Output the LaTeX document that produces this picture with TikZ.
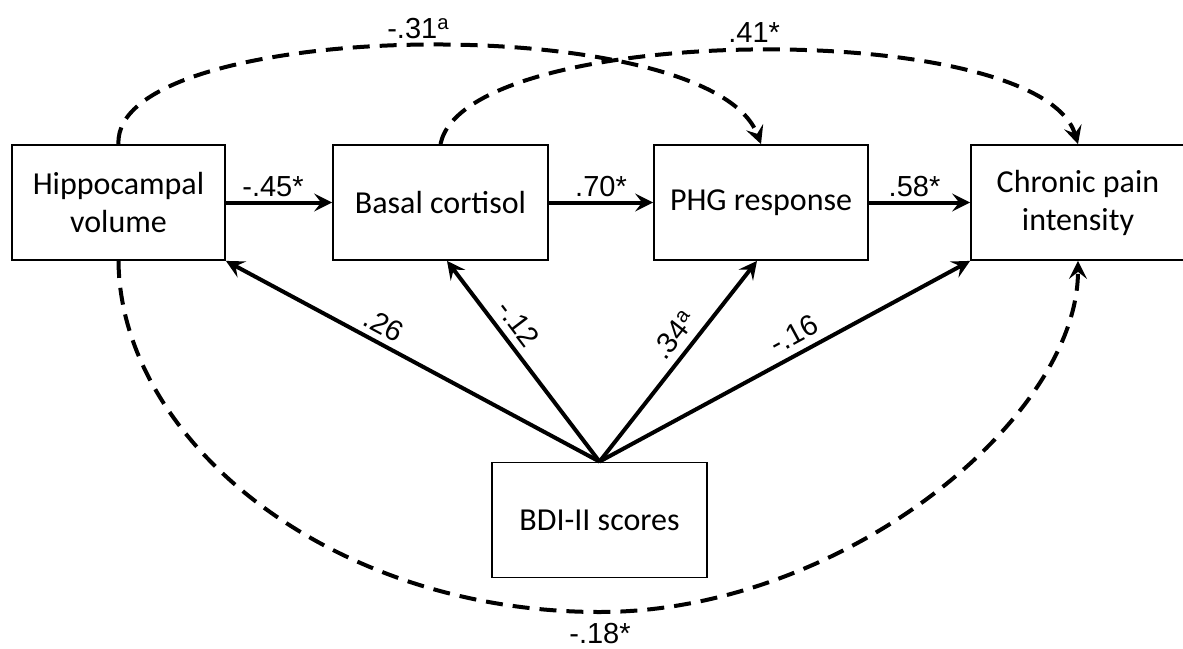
\documentclass[tikz,border=0pt]{standalone}
\usepackage{fontspec}
\setmainfont{Carlito}
\newfontfamily\coeffont{Liberation Sans}
\usetikzlibrary{arrows.meta}
\begin{document}
\begin{tikzpicture}[x=1pt,y=-1pt,
  box/.style={draw, line width=1.8pt, minimum height=115pt, inner sep=0pt,
              align=center, font=\fontsize{32}{38}\selectfont},
  tip/.style={-{Stealth[length=18pt,width=18pt,inset=7pt]}},
  effect/.style={tip, line width=4pt},
  assoc/.style={tip, line width=4pt, dash pattern=on 17pt off 10pt},
  coef/.style={font=\coeffont\fontsize{29}{32}\selectfont, inner sep=2pt},
]
\useasboundingbox (0,0) rectangle (1183,648);

% variables
\node[box, minimum width=213pt] (hip) at (118.5,202.5) {Hippocampal\\volume};
\node[box, minimum width=215pt] (bas) at (440.5,202.5) {Basal cortisol};
\node[box, minimum width=214pt] (phg) at (761,202.5) {PHG response};
\node[box, minimum width=214pt] (chr) at (1078,202.5) {Chronic pain\\intensity};
\node[box, minimum width=215pt] (bdi) at (599.5,520) {BDI-II scores};

% main pathway
\draw[effect] (hip.east) -- (bas.west)
  node[coef, midway, above=2pt, xshift=-6pt] {-.45*};
\draw[effect] (bas.east) -- (phg.west)
  node[coef, midway, above=2pt] {.70*};
\draw[effect] (phg.east) -- (chr.west)
  node[coef, midway, above=2pt, xshift=-5pt] {.58*};

% depression scores to each variable
\draw[effect] (bdi.north) -- (hip.south east)
  node[coef, pos=0.6, sloped, above=4pt] {.26};
\draw[effect] (bdi.north) -- ([xshift=6.5pt]bas.south)
  node[coef, pos=0.63, sloped, above=5pt] {-.12};
\draw[effect] (bdi.north) -- ([xshift=-4pt]phg.south)
  node[coef, pos=0.57, sloped, above=5pt] {.34\textsuperscript{a}};
\draw[effect] (bdi.north) -- (chr.south west)
  node[coef, pos=0.55, sloped, above=5pt] {-.16};

% indirect paths
\draw[assoc] (hip.north) .. controls (112,18) and (710,8) .. (phg.north)
  node[coef, pos=0.5, above=3pt] {-.31\textsuperscript{a}};
\draw[assoc] (bas.north) .. controls (465,22) and (1040,17) .. (chr.north)
  node[coef, pos=0.5, above=4pt] {.41*};
\draw[assoc] (hip.south) .. controls (120,440) and (330,612) .. (600,612)
  node[coef, below=7pt] {-.18*}
  .. controls (840,612) and (1078,420) .. (chr.south);
\end{tikzpicture}
\end{document}
